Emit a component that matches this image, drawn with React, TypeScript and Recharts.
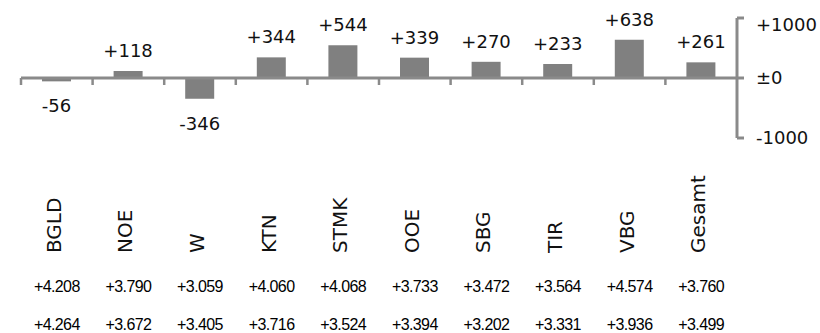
import { BarChart, Bar, XAxis, YAxis, ReferenceLine, LabelList } from "recharts"

const regions = ["BGLD", "NOE", "W", "KTN", "STMK", "OOE", "SBG", "TIR", "VBG", "Gesamt"]
const changes = [-56, 118, -346, 344, 544, 339, 270, 233, 638, 261]
const currentValues = ["+4.208", "+3.790", "+3.059", "+4.060", "+4.068", "+3.733", "+3.472", "+3.564", "+4.574", "+3.760"]
const previousValues = ["+4.264", "+3.672", "+3.405", "+3.716", "+3.524", "+3.394", "+3.202", "+3.331", "+3.936", "+3.499"]
const scaleTicks = [-1000, 0, 1000]

const chartData = regions.map((region, i) => ({
  region,
  change: changes[i],
  current: currentValues[i],
  previous: previousValues[i],
}))

const AXIS_GREY = "#8a8a8a"
const BAR_GREY = "#808080"
const LABEL_FONT = "'DejaVu Sans', sans-serif"

function signed(v: number) {
  if (v > 0) return `+${v}`
  if (v === 0) return "±0"
  return `${v}`
}

// Werte ueber (positiv) bzw. unter (negativ) den Balken
function ChangeLabel(props: any) {
  const { x, y, width, height, value } = props
  const top = Math.min(y, y + height)
  const bottom = Math.max(y, y + height)
  const ty = value >= 0 ? top - 14 : bottom + 31
  return (
    <text x={x + width / 2} y={ty} textAnchor="middle" fontFamily={LABEL_FONT} fontSize={18} fill="#111">
      {signed(value)}
    </text>
  )
}

// Bundesland senkrecht + zwei Zahlenzeilen darunter
function RegionTick(props: any) {
  const { x, y, payload, index } = props
  const row = chartData[index] ?? chartData.find((d) => d.region === payload.value)
  return (
    <g>
      <text
        transform={`translate(${x + 4},${y + 115}) rotate(-90)`}
        textAnchor="start"
        fontFamily={LABEL_FONT}
        fontSize={20}
        fill="#111"
      >
        {payload.value}
      </text>
      <text x={x} y={y + 154} textAnchor="middle" fontFamily="'Liberation Sans', Arial, sans-serif" fontSize={16} letterSpacing={-0.6} fill="#000">
        {row?.current}
      </text>
      <text x={x} y={y + 192} textAnchor="middle" fontFamily="'Liberation Sans', Arial, sans-serif" fontSize={16} letterSpacing={-0.6} fill="#000">
        {row?.previous}
      </text>
    </g>
  )
}

function ScaleTick(props: any) {
  const { x, y, payload } = props
  const dy = payload.value === scaleTicks[scaleTicks.length - 1] ? 7 : 0
  return (
    <text x={x} y={y + dy} dy="0.36em" textAnchor="start" fontFamily={LABEL_FONT} fontSize={18} fill="#111">
      {signed(payload.value)}
    </text>
  )
}

// kleine Striche an den Kategoriegrenzen auf der Nulllinie
function ZeroTicks(props: any) {
  const vb = props.viewBox || {}
  const x1 = Number(vb.x)
  const y1 = Number(vb.y)
  const step = Number(vb.width) / regions.length
  if (!isFinite(x1) || !isFinite(y1) || !isFinite(step)) return null
  return (
    <g>
      {regions.map((_, i) => (
        <line
          key={i}
          x1={x1 + i * step}
          y1={y1}
          x2={x1 + i * step}
          y2={y1 + 7}
          stroke={AXIS_GREY}
          strokeWidth={2.5}
        />
      ))}
    </g>
  )
}

export default function App() {
  return (
    <div style={{ position: "absolute", left: 0, top: 0, background: "#fff" }}>
      <BarChart width={820} height={333} data={chartData} margin={{ top: 18, right: 13, left: 21, bottom: 0 }}>
        <XAxis
          dataKey="region"
          height={195}
          axisLine={false}
          tickLine={false}
          tickSize={0}
          tickMargin={0}
          interval={0}
          tick={<RegionTick />}
        />
        <YAxis
          orientation="right"
          width={70}
          domain={[-1000, 1000]}
          ticks={scaleTicks}
          axisLine={{ stroke: AXIS_GREY, strokeWidth: 3 }}
          tickLine={{ stroke: AXIS_GREY, strokeWidth: 3 }}
          tickSize={7}
          tickMargin={12}
          tick={<ScaleTick />}
        />
        <ReferenceLine y={0} stroke={AXIS_GREY} strokeWidth={3} label={<ZeroTicks />} />
        <Bar dataKey="change" fill={BAR_GREY} barSize={29} isAnimationActive={false}>
          <LabelList dataKey="change" content={<ChangeLabel />} />
        </Bar>
      </BarChart>
    </div>
  )
}
